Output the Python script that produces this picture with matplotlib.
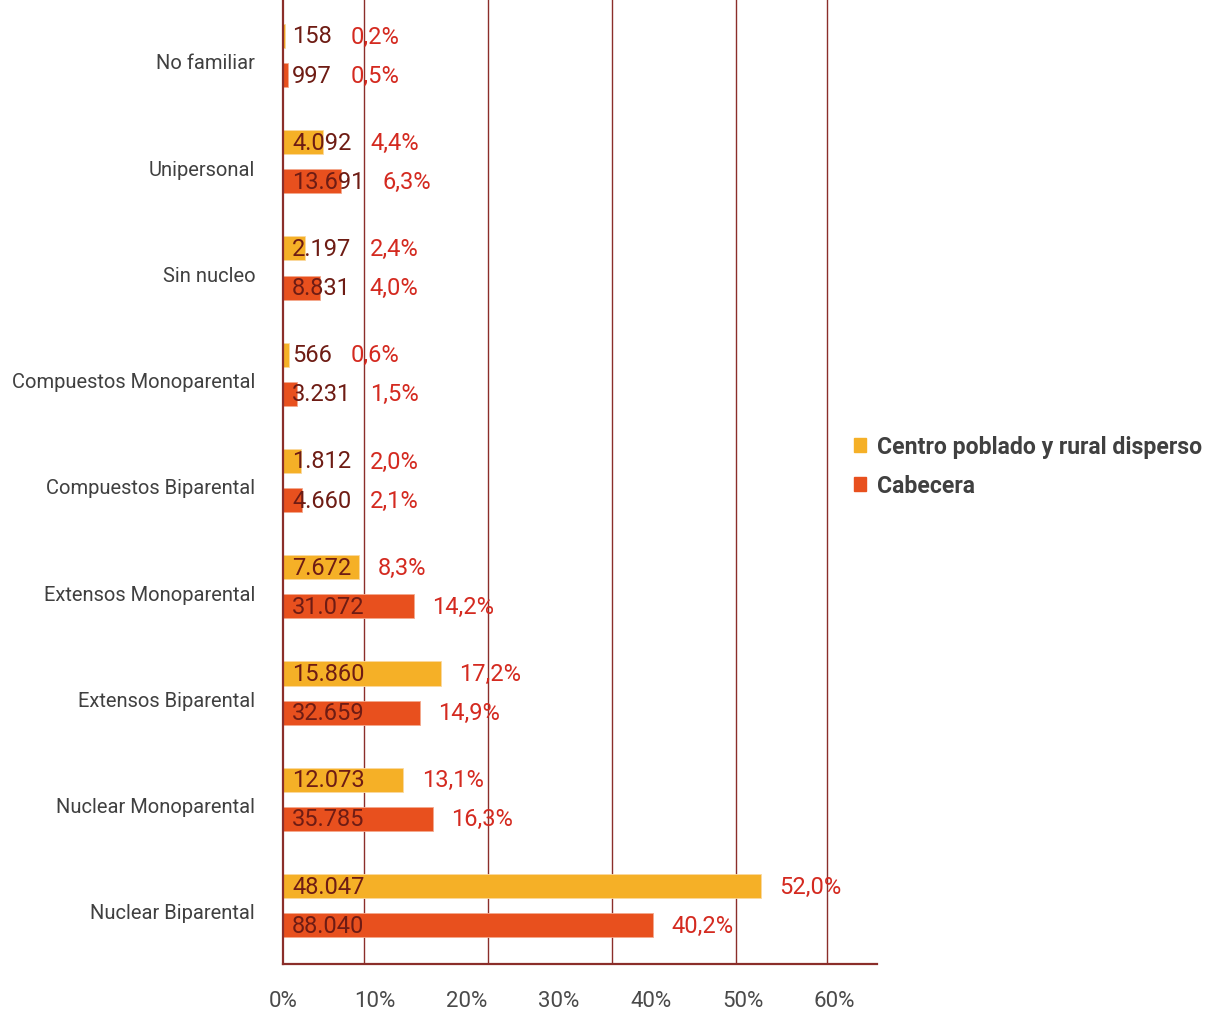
import numpy as np
import matplotlib.pyplot as plt
from matplotlib.patches import Patch

plt.rcParams['font.family'] = ['Roboto', 'DejaVu Sans']

# categories, top to bottom
categorias = ['No familiar', 'Unipersonal', 'Sin nucleo', 'Compuestos Monoparental',
              'Compuestos Biparental', 'Extensos Monoparental', 'Extensos Biparental',
              'Nuclear Monoparental', 'Nuclear Biparental']

# Centro poblado y rural disperso
rural_n = ['158', '4.092', '2.197', '566', '1.812', '7.672', '15.860', '12.073', '48.047']
rural_pct = [0.2, 4.4, 2.4, 0.6, 2.0, 8.3, 17.2, 13.1, 52.0]

# Cabecera
cab_n = ['997', '13.691', '8.831', '3.231', '4.660', '31.072', '32.659', '35.785', '88.040']
cab_pct = [0.5, 6.3, 4.0, 1.5, 2.1, 14.2, 14.9, 16.3, 40.2]

x_ticks = [0, 10, 20, 30, 40, 50, 60]
grid_x = [8.8, 22.3, 35.8, 49.3, 59.2]   # gridlines in the original are off the tick spacing

c_rural = '#F5B027'
c_cab = '#E8501E'
c_axis = '#8B2E2A'
c_num = '#6E1C14'
c_pct = '#D42A20'

fig = plt.figure(figsize=(12.16, 10.12), dpi=100)
ax = fig.add_axes([283/1216, 1-965/1012, 594/1216, 965/1012])

y = np.arange(len(categorias))
off = 0.184
h = 0.226

ax.barh(y - off, rural_pct, height=h, color=c_rural, edgecolor='#FBD9A0', linewidth=0.6, zorder=2)
ax.barh(y + off, cab_pct, height=h, color=c_cab, edgecolor='#F4A98D', linewidth=0.6, zorder=2)

for gx in grid_x:
    ax.axvline(gx, color=c_axis, lw=1, zorder=1)

ax.set_xlim(0, 64.6)
ax.set_ylim(8.55, -0.532)

ax.set_yticks(y + 0.05)
ax.set_yticklabels(categorias, fontsize=14.5, color='#404040')
ax.set_xticks(x_ticks)
ax.set_xticklabels([f'{t}%' for t in x_ticks], fontsize=16, color='#4a4a4a')
ax.tick_params(axis='both', length=0)
ax.tick_params(axis='y', pad=20)
ax.tick_params(axis='x', pad=19)

for s in ['top', 'right']:
    ax.spines[s].set_visible(False)
for s in ['left', 'bottom']:
    ax.spines[s].set_color(c_axis)
    ax.spines[s].set_linewidth(1.6)

fig.canvas.draw()
r = fig.canvas.get_renderer()
inv = ax.transData.inverted()

def labels(ypos, nums, pcts):
    for yy, n, p in zip(ypos, nums, pcts):
        t = ax.text(1.0, yy, n, fontsize=17, color=c_num, va='center', ha='left', zorder=3)
        bb = t.get_window_extent(r)
        x_end = inv.transform((bb.x1, bb.y0))[0]
        xp = max(p, x_end) + 2.0
        ax.text(xp, yy, f'{p:.1f}%'.replace('.', ','), fontsize=17, color=c_pct,
                va='center', ha='left', zorder=3)

labels(y - off, rural_n, rural_pct)
labels(y + off, cab_n, cab_pct)

handles = [Patch(color=c_rural, label='Centro poblado y rural disperso'),
           Patch(color=c_cab, label='Cabecera')]
leg = fig.legend(handles=handles, loc='center left', bbox_to_anchor=(833/1216, 1-467/1012),
                 frameon=False, handlelength=0.55, handleheight=0.55, handletextpad=0.45,
                 labelspacing=0.7, prop={'size': 16.6, 'weight': 'bold'})
for t in leg.get_texts():
    t.set_color('#404040')

fig.savefig('out.png', dpi=100)
